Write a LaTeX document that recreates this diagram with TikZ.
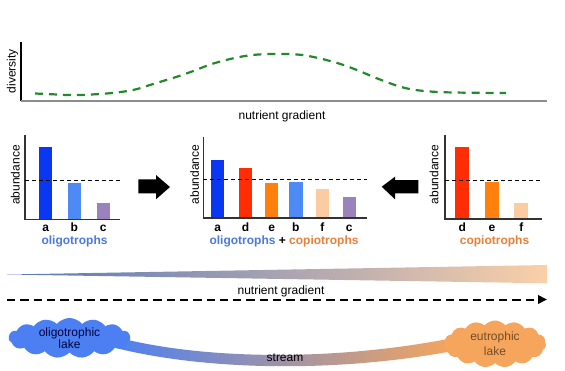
\documentclass[tikz,border=0pt]{standalone}
\usepackage{fontspec}
\setmainfont{Liberation Sans}
\usepackage{xcolor}
\usetikzlibrary{shapes.symbols,positioning,arrows.meta}

\definecolor{taxA}{HTML}{0A38F2}
\definecolor{taxB}{HTML}{4D8AF6}
\definecolor{taxC}{HTML}{9A82BC}
\definecolor{taxD}{HTML}{FF2C04}
\definecolor{taxE}{HTML}{FF800C}
\definecolor{taxF}{HTML}{FBCBA2}
\definecolor{oligoblue}{HTML}{4A78E0}
\definecolor{copiorange}{HTML}{E8803A}
\definecolor{divgreen}{HTML}{23892A}
\definecolor{axisgray}{HTML}{8C8C8C}
\definecolor{lakeblue}{HTML}{4C80F2}
\definecolor{lakeorange}{HTML}{F6A65C}
\definecolor{streammid}{HTML}{A08CAE}
\definecolor{wedgeL}{HTML}{5676BA}
\definecolor{wedgeM}{HTML}{C4BCC6}
\definecolor{wedgeR}{HTML}{FAD0A8}

\tikzset{
  lbl/.style={font=\fontsize{12}{14}\selectfont, inner sep=0pt},
  taxlbl/.style={font=\fontsize{12}{14}\selectfont\bfseries, inner sep=0pt, anchor=base},
  axisline/.style={draw=black!80, line width=1.2pt},
  cutoff/.style={dash pattern=on 4pt off 3pt, line width=0.8pt},
  bigarrow/.style={fill=black},
  lake/.style={cloud, cloud puffs=15, cloud puff arc=100, inner sep=0pt, align=center}
}

\begin{document}
\begin{tikzpicture}[x=1pt,y=-1pt]
    \useasboundingbox (0,0) rectangle (565,370);

    % diversity along the gradient
    \draw[line width=1.3pt] (21,42) -- (21,101);
    \draw[axisgray, line width=2pt] (21,101) -- (547,101);
    \node[lbl, rotate=90] (divlbl) at (12.5,71) {diversity};
    \node[lbl, anchor=base] (gradtop) at (282,119.5) {nutrient gradient};
    \draw[divgreen, line width=2.2pt, dash pattern=on 8pt off 6pt]
        plot[smooth, tension=0.6] coordinates {(35,93.5) (53,94.3) (67,95) (81,95) (95,94.3)
        (109,93.3) (123,91.7) (136,89.3) (150,85) (163,81) (177,76.7) (192,71.5) (215,63)
        (245,56) (272,54) (302,55) (332,61.5) (353,68.5) (380,79.5) (405,88) (430,91.5)
        (460,92.6) (506,93)};

    % oligotrophs
    \foreach \xl/\ytop/\col/\tx in {39.3/147.3/taxA/a, 67.7/183.3/taxB/b, 96.7/202.7/taxC/c}{
        \fill[\col] (\xl,\ytop) rectangle (\xl+13,219.3);
        \node[taxlbl] (ol\tx) at (\xl+6.5,231) {\tx};
    }
    \draw[axisline] (25,135) -- (25,219.3) -- (120,219.3);
    \draw[cutoff] (25,180.3) -- (120,180.3);
    \node[lbl, rotate=90] (abL) at (15.3,175) {abundance};
    \node[taxlbl, text=oligoblue] (oligo) at (74.5,244.5) {oligotrophs};

    % mixed community
    \foreach \xl/\ytop/\col/\tx in {211/160/taxA/a, 239/168.3/taxD/d, 265/182.7/taxE/e,
                                    289.3/181.7/taxB/b, 315.7/189/taxF/f, 342.7/196.7/taxC/c}{
        \fill[\col] (\xl,\ytop) rectangle (\xl+13.3,218);
        \node[taxlbl] (mx\tx) at (\xl+6.6,231) {\tx};
    }
    \draw[axisline] (203.3,136.7) -- (203.3,218) -- (367,218);
    \draw[cutoff] (203.3,179.7) -- (367,179.7);
    \node[lbl, rotate=90] (abM) at (194.7,174.5) {abundance};
    \node[taxlbl] (mixed) at (284,244.5)
        {\textcolor{oligoblue}{oligotrophs} + \textcolor{copiorange}{copiotrophs}};

    % copiotrophs
    \foreach \xl/\ytop/\col/\tx in {455.3/147.3/taxD/d, 485/181.7/taxE/e, 514.3/202.7/taxF/f}{
        \fill[\col] (\xl,\ytop) rectangle (\xl+14,219);
        \node[taxlbl] (cp\tx) at (\xl+7,231) {\tx};
    }
    \draw[axisline] (445,135) -- (445,219) -- (542,219);
    \draw[cutoff] (445,180.7) -- (542,180.7);
    \node[lbl, rotate=90] (abR) at (434,174.5) {abundance};
    \node[taxlbl, text=copiorange] (copio) at (494.5,244.5) {copiotrophs};

    % block arrows
    \fill[bigarrow] (138.3,179.3) -- (156,179.3) -- (156,175) -- (170,187) -- (156,199.3)
        -- (156,193.3) -- (138.3,193.3) -- cycle;
    \fill[bigarrow] (418.3,180) -- (395,180) -- (395,176.7) -- (381.7,186.7) -- (395,199.3)
        -- (395,193.3) -- (418.3,193.3) -- cycle;

    % nutrient wedge and gradient arrow
    \shade[left color=wedgeL, middle color=wedgeM, right color=wedgeR]
        (7,274.5) -- (547,265) -- (547,283.3) -- cycle;
    \node[lbl, anchor=base] (gradbot) at (281,294) {nutrient gradient};
    \coordinate (gradstart) at (7,299.5);
    \coordinate (gradend) at (547,299.5);
    \draw[line width=2pt, dash pattern=on 8.3pt off 5pt, -{Triangle[length=9pt,width=8.5pt]}]
        (gradstart) -- (gradend);

    % stream between the lakes
    \shade[left color=lakeblue, middle color=streammid, right color=lakeorange]
        (112,336) .. controls (200,360) and (335,362) .. (458,337)
        -- (458,350) .. controls (335,374) and (200,370) .. (112,347) -- cycle;
    \node[lbl] (streamlbl) at (285,358) {stream};

    \node[lake, fill=lakeblue, minimum width=122pt, minimum height=40pt, aspect=3,
          font=\fontsize{12}{12.5}\selectfont, text=blue!25!black] (oligolake) at (69.5,338)
        {oligotrophic\\lake};
    \node[lake, fill=lakeorange, minimum width=102pt, minimum height=47pt, aspect=2.2,
          font=\fontsize{12}{15}\selectfont, text=brown!60!black] (eutrolake) at (495,344)
        {eutrophic\\lake};
\end{tikzpicture}
\end{document}
